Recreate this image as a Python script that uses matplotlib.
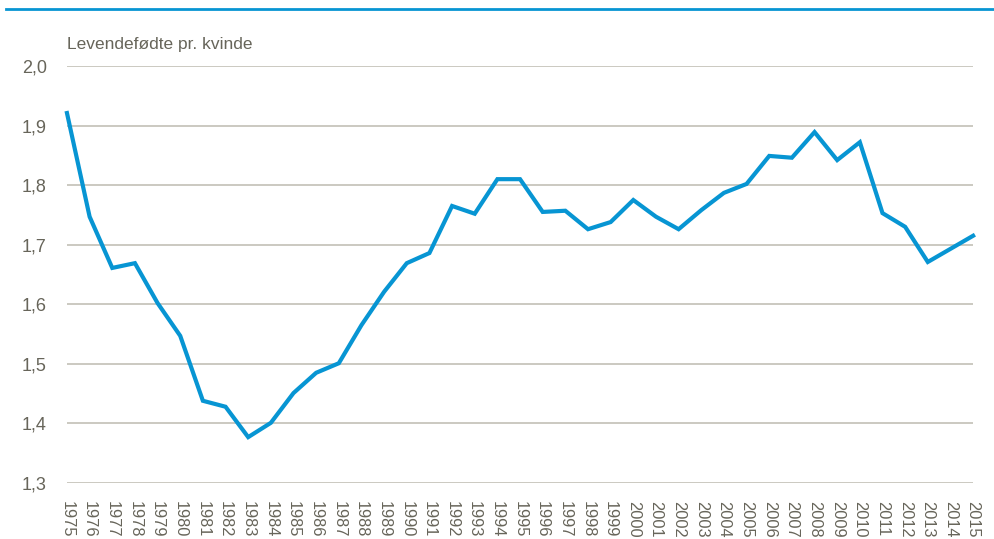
import numpy as np
import matplotlib.pyplot as plt
from matplotlib.lines import Line2D

plt.rcParams['font.family'] = ['Liberation Sans', 'DejaVu Sans']

years = list(range(1975, 2016))
fertility = [1.921, 1.747, 1.661, 1.669, 1.602, 1.547, 1.438, 1.428, 1.377, 1.401,
             1.451, 1.485, 1.501, 1.565, 1.621, 1.669, 1.686, 1.765, 1.752, 1.810,
             1.810, 1.755, 1.757, 1.726, 1.738, 1.775, 1.747, 1.726, 1.758, 1.787,
             1.802, 1.849, 1.846, 1.889, 1.842, 1.872, 1.753, 1.730, 1.671, 1.693,
             1.715]
yticks = [1.3, 1.4, 1.5, 1.6, 1.7, 1.8, 1.9, 2.0]
ylabel = "Levendefødte pr. kvinde"

text_col = "#67655a"
grid_col = "#bdbbb0"
blue = "#0795d3"

fig = plt.figure(figsize=(9.95, 5.39), dpi=100)
ax = fig.add_axes([0.0673, 0.1039, 0.9107, 0.7737])

ax.plot(years, fertility, color=blue, lw=3.0, solid_joinstyle='miter', clip_on=False)

ax.set_xlim(1975, 2015)
ax.set_ylim(1.3, 2.0)
ax.set_yticks(yticks)
ax.set_yticklabels([f"{v:.1f}".replace(".", ",") for v in yticks])
ax.set_xticks(years)
ax.set_xticklabels([str(y) for y in years], rotation=-90, va='top', ha='center')
ax.tick_params(axis='y', length=0, pad=14.5, labelsize=13, labelcolor=text_col)
ax.tick_params(axis='x', length=0, pad=13, labelsize=11.8, labelcolor=text_col)
ax.yaxis.grid(True, color=grid_col, lw=1.1)
ax.set_axisbelow(True)
for s in ax.spines.values():
    s.set_visible(False)

fig.text(0.0673, 1 - 44 / 539, ylabel, color=text_col, fontsize=12.5, va='center', ha='left')
fig.add_artist(Line2D([6 / 995, 1.0], [1 - 9 / 539, 1 - 9 / 539], color=blue, lw=2))

fig.savefig("out.png", dpi=100)
